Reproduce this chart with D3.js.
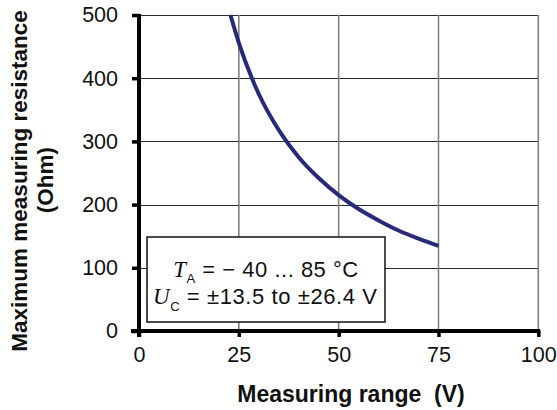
<!DOCTYPE html>
<html><head><meta charset="utf-8">
<script src="https://cdn.jsdelivr.net/npm/d3@7"></script>
<style>
html,body{margin:0;padding:0;background:#fff;}
svg{display:block;font-family:"Liberation Sans",Arial,sans-serif;}
text{white-space:pre;}
</style></head>
<body>
<svg id="chart" width="557" height="410"></svg>
<script>
// Data
const voltage    = [22.9, 25, 28.2, 30, 35, 40, 45, 50, 55, 60, 65, 70, 75];
const resistance = [500, 456, 401, 375, 318, 275, 242, 215, 193, 175, 159, 146, 134.5];
const xTicks = [0, 25, 50, 75, 100];
const yTicks = [0, 100, 200, 300, 400, 500];
const xTitle = "Measuring range  (V)";
const yTitle1 = "Maximum measuring resistance";
const yTitle2 = "(Ohm)";

const svg = d3.select("#chart");
const L = 139, R = 538.3, T = 15, B = 331;
const x = d3.scaleLinear().domain([0, 100]).range([L, R]);
const y = d3.scaleLinear().domain([0, 500]).range([B, T]);

// grid
svg.append("g").selectAll("line").data(yTicks.filter(d => d > 0)).join("line")
  .attr("x1", L).attr("x2", R).attr("y1", d => Math.round(y(d)) + 0.5).attr("y2", d => Math.round(y(d)) + 0.5)
  .attr("stroke", "#2a2a2a").attr("stroke-width", 1);
svg.append("g").selectAll("line").data(xTicks.filter(d => d > 0)).join("line")
  .attr("y1", T).attr("y2", B).attr("x1", d => x(d)).attr("x2", d => x(d))
  .attr("stroke", "#808080").attr("stroke-width", 1.6);

// legend box
const lg = svg.append("g");
lg.append("rect").attr("x", 147).attr("y", 237).attr("width", 238).attr("height", 85)
  .attr("fill", "#fff").attr("stroke", "#111").attr("stroke-width", 1.5);
const t1 = lg.append("text").attr("x", 265.7).attr("y", 276.5).attr("text-anchor", "middle")
  .attr("font-size", 22).attr("fill", "#111").attr("textLength", 185).attr("lengthAdjust", "spacing");
t1.append("tspan").attr("font-family", "Liberation Serif, Times New Roman, serif").attr("font-style", "italic").attr("font-size", 23).text("T");
t1.append("tspan").attr("font-size", 13).attr("dy", 6).text("A");
t1.append("tspan").attr("dy", -6).text(" = \u2212 40 ... 85 \u00B0C");
const t2 = lg.append("text").attr("x", 265).attr("y", 304.3).attr("text-anchor", "middle")
  .attr("font-size", 22).attr("fill", "#111").attr("textLength", 224).attr("lengthAdjust", "spacing");
t2.append("tspan").attr("font-family", "Liberation Serif, Times New Roman, serif").attr("font-style", "italic").attr("font-size", 23).text("U");
t2.append("tspan").attr("font-size", 13).attr("dy", 7).text("C");
t2.append("tspan").attr("dy", -7).text(" = \u00B113.5 to \u00B126.4 V");

// curve
const pts = voltage.map((v, i) => [v, resistance[i]]);
svg.append("path").datum(pts)
  .attr("d", d3.line().x(d => x(d[0])).y(d => y(d[1])).curve(d3.curveMonotoneX))
  .attr("fill", "none").attr("stroke", "#262a78").attr("stroke-width", 4);

// axes
const xAxis = d3.axisBottom(x).tickValues(xTicks).tickSize(6).tickPadding(10).tickFormat(d3.format("d"));
const gx = svg.append("g").attr("transform", `translate(0,${B})`).call(xAxis);
gx.select(".domain").remove();
gx.append("line").attr("x1", L - 8).attr("x2", R + 2).attr("y1", 0).attr("y2", 0)
  .attr("stroke", "#000").attr("stroke-width", 4);
gx.selectAll(".tick line").attr("stroke", "#000").attr("stroke-width", 3.5);
gx.selectAll(".tick text").attr("font-size", 21.5).attr("fill", "#111")
  .attr("font-family", "Liberation Sans, Arial, sans-serif");

const yAxis = d3.axisLeft(y).tickValues(yTicks).tickSize(7).tickPadding(14).tickFormat(d3.format("d"));
const gy = svg.append("g").attr("transform", `translate(${L},0)`).call(yAxis);
gy.select(".domain").remove();
gy.append("line").attr("x1", 0).attr("x2", 0).attr("y1", T - 1).attr("y2", B + 6)
  .attr("stroke", "#000").attr("stroke-width", 4);
gy.selectAll(".tick line").attr("stroke", "#000").attr("stroke-width", 3.5);
gy.selectAll(".tick text").attr("font-size", 21.5).attr("fill", "#111")
  .attr("font-family", "Liberation Sans, Arial, sans-serif");

// titles
svg.append("text").attr("x", 351).attr("y", 402).attr("text-anchor", "middle")
  .attr("font-size", 23).attr("font-weight", "bold").attr("fill", "#111").text(xTitle);
svg.append("text").attr("transform", "translate(27,181) rotate(-90)").attr("text-anchor", "middle")
  .attr("font-size", 22.5).attr("font-weight", "bold").attr("fill", "#111").text(yTitle1);
svg.append("text").attr("transform", "translate(53,180) rotate(-90)").attr("text-anchor", "middle")
  .attr("font-size", 22.5).attr("font-weight", "bold").attr("fill", "#111").text(yTitle2);
</script>
</body></html>
